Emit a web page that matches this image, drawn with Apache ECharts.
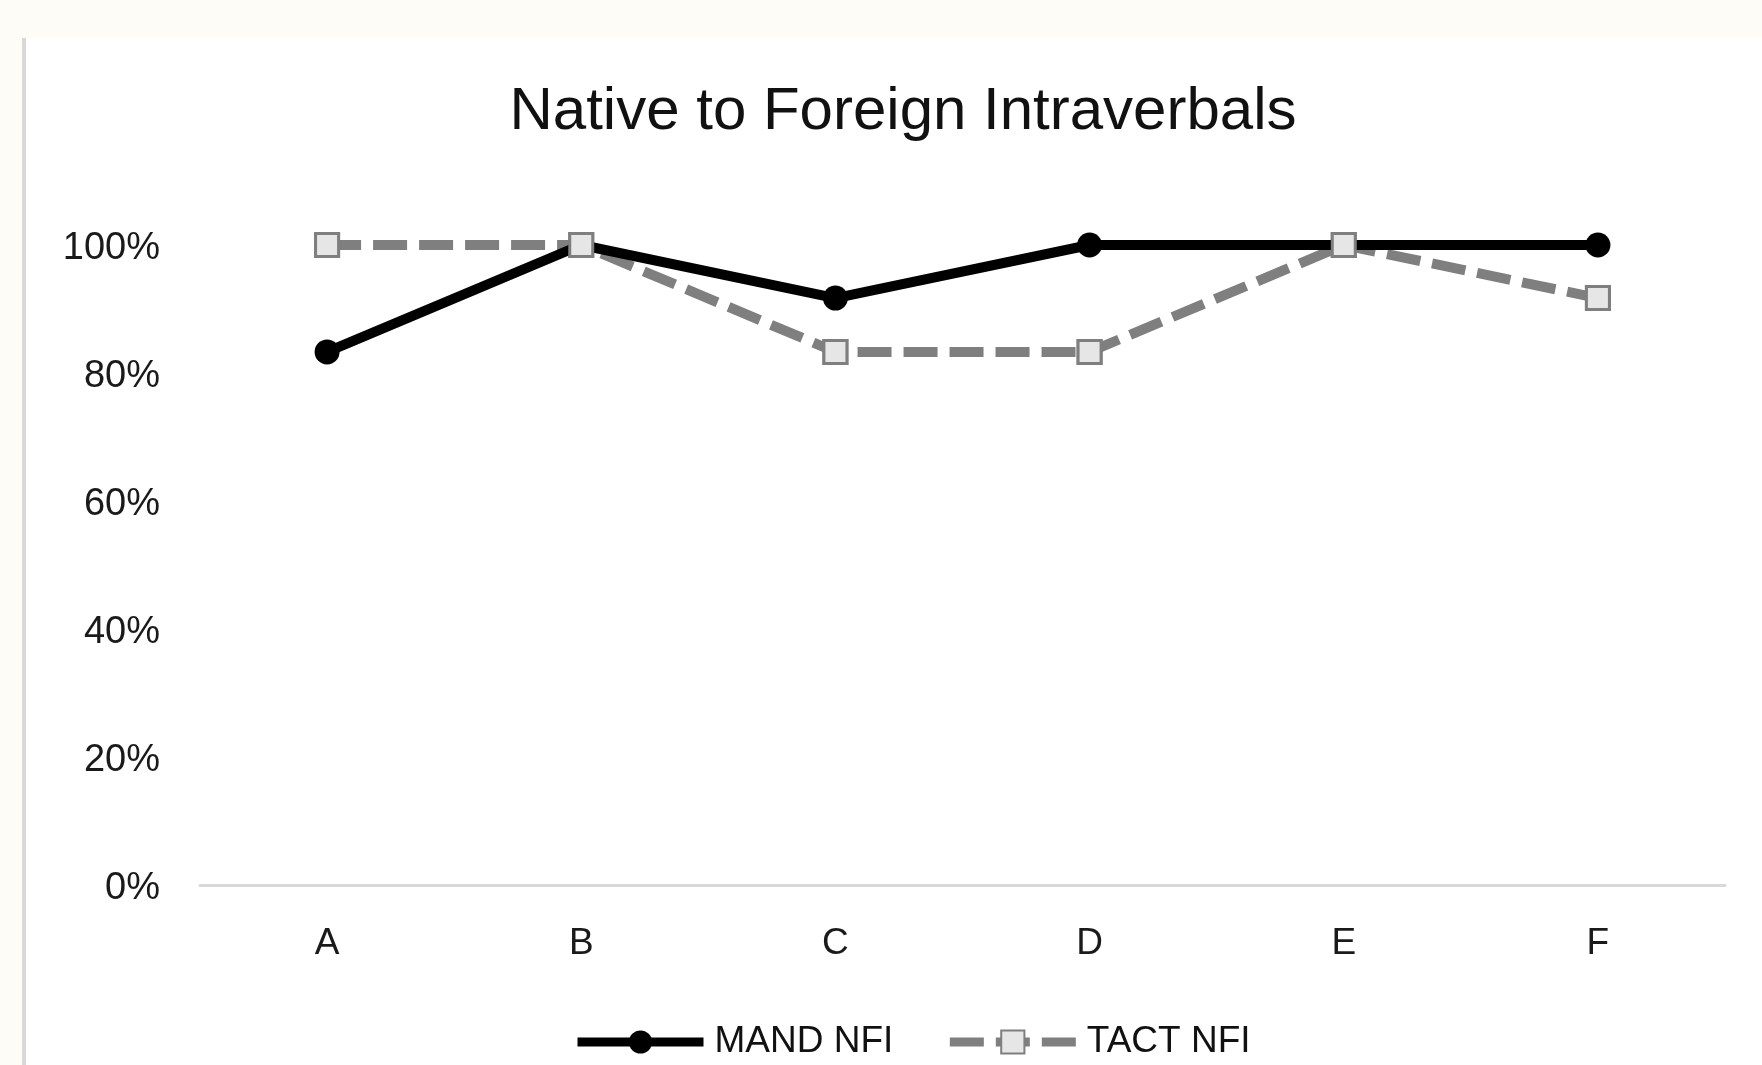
<!DOCTYPE html>
<html>
<head>
<meta charset="utf-8">
<script src="https://cdn.jsdelivr.net/npm/echarts@6/dist/echarts.min.js"></script>
<style>
  html, body { margin: 0; padding: 0; width: 1762px; height: 1065px; background: #FDFCF6; overflow: hidden; }
  #panel { position: absolute; left: 22px; top: 38px; right: 0; bottom: 0; background: #ffffff; border-left: 4px solid #d9d9d9; }
  #chart { position: absolute; left: 0; top: 0; width: 1762px; height: 1065px; }
</style>
</head>
<body>
<div id="panel"></div>
<div id="chart"></div>
<script>
const categories = ['A', 'B', 'C', 'D', 'E', 'F'];
const mandNFI = [0.833, 1.0, 0.917, 1.0, 1.0, 1.0];
const tactNFI = [1.0, 1.0, 0.833, 0.833, 1.0, 0.917];
const seriesNames = ['MAND NFI', 'TACT NFI'];
const titleText = 'Native to Foreign Intraverbals';

const chart = echarts.init(document.getElementById('chart'), null, { renderer: 'canvas' });
const tactSymbolStyle = { color: '#e7e6e6', borderColor: '#7f7f7f', borderWidth: 3, opacity: 1 };
const option = {
  animation: false,
  title: {
    text: titleText,
    left: 903,
    textAlign: 'center',
    top: 80,
    padding: 0,
    textStyle: { fontFamily: 'Liberation Sans', fontSize: 60, fontWeight: 'normal', color: '#111111', lineHeight: 64 }
  },
  legend: {
    data: seriesNames,
    left: 568,
    top: 1017,
    itemWidth: 126,
    itemHeight: 29,
    itemGap: 52,
    lineStyle: { width: 9 },
    textStyle: { fontFamily: 'Liberation Sans', fontSize: 37, color: '#111111', lineHeight: 40, padding: [0, 0, 0, 6] }
  },
  grid: { left: 200, right: 37, top: 245, bottom: 180, containLabel: false },
  xAxis: {
    type: 'category',
    data: categories,
    boundaryGap: true,
    axisLine: { show: true, lineStyle: { color: '#d9d9d9', width: 3 } },
    axisTick: { show: false },
    axisLabel: { margin: 40, fontFamily: 'Liberation Sans', fontSize: 37, color: '#1a1a1a' }
  },
  yAxis: {
    type: 'value',
    min: 0,
    max: 1,
    interval: 0.2,
    axisLine: { show: false },
    axisTick: { show: false },
    splitLine: { show: false },
    axisLabel: {
      margin: 40,
      color: '#1a1a1a',
      formatter: v => '{p|' + Math.round(v * 100) + '%}',
      rich: {
        p: { fontFamily: 'Liberation Sans', fontSize: 38, color: '#1a1a1a', lineHeight: 38, padding: [8, 0, 0, 0] }
      }
    }
  },
  series: [
    {
      name: seriesNames[0],
      type: 'line',
      data: mandNFI,
      symbol: 'circle',
      symbolSize: 25,
      lineStyle: { color: '#000000', width: 10 },
      itemStyle: { color: '#000000' },
      z: 3
    },
    {
      name: seriesNames[1],
      type: 'line',
      data: tactNFI,
      symbol: 'rect',
      symbolSize: 23,
      lineStyle: { color: '#7f7f7f', width: 10, type: [34, 12] },
      itemStyle: tactSymbolStyle,
      z: 2
    },
    {
      name: seriesNames[1] + ' markers',
      type: 'scatter',
      data: tactNFI,
      symbol: 'rect',
      symbolSize: 23,
      itemStyle: tactSymbolStyle,
      silent: true,
      z: 4
    }
  ]
};
chart.setOption(option);
</script>
</body>
</html>
